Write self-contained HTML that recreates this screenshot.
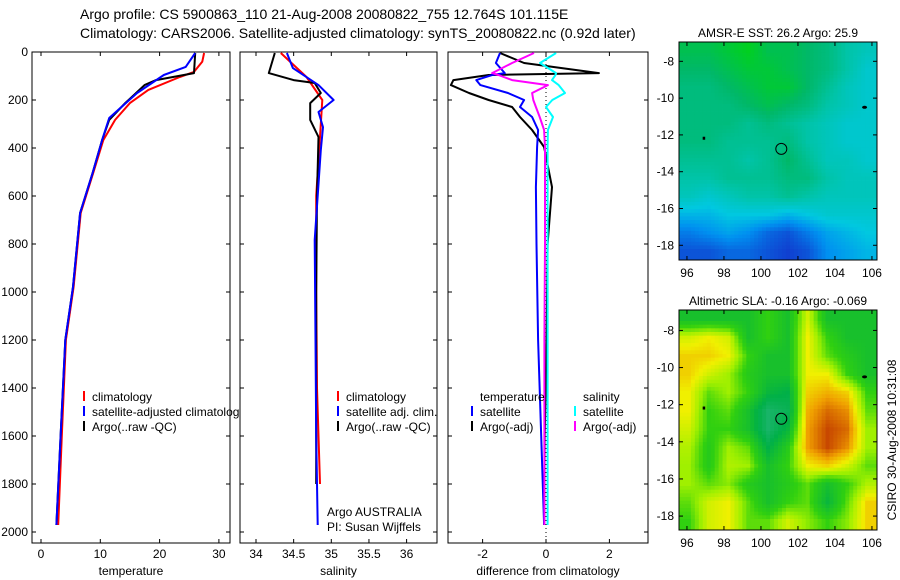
<!DOCTYPE html>
<html><head><meta charset="utf-8"><style>
body{margin:0;background:#fff}
svg{display:block;font-family:"Liberation Sans",sans-serif}
text{font-size:12px;fill:#000}
</style></head><body>
<svg id="s" width="900" height="580" xmlns="http://www.w3.org/2000/svg">
<rect width="900" height="580" fill="#fff"/>
<text x="80" y="19" style="font-size:14px">Argo profile: CS 5900863_110 21-Aug-2008 20080822_755 12.764S 101.115E</text>
<text x="80" y="38" style="font-size:14px">Climatology: CARS2006. Satellite-adjusted climatology: synTS_20080822.nc (0.92d later)</text>
</svg>
<script>
// ---- data ----
const tDepth=[4,40,83,104,158,213,283,367,504,671,979,1200,1600,1971];
const tClim=[27.5,27.2,25.8,23.4,18.1,15.0,12.5,10.5,8.8,6.7,5.5,4.2,3.5,2.9];
const tArgoDepth=[4,88,117,137,213,283,367,504,671,979,1200,1600,1971];
const tArgo=[26.0,25.8,19.4,17.5,14.2,11.5,10.3,8.7,6.6,5.4,4.1,3.3,2.6];
const tSatDepth=[4,62,96,171,275,367,504,671,979,1200,1600,1971];
const tSat=[26.0,24.4,20.7,16.2,11.5,10.3,8.7,6.6,5.4,4.1,3.3,2.6];
const sClimDepth=[4,104,200,354,600,1000,1400,1800];
const sClim=[34.33,34.67,34.88,34.85,34.8,34.8,34.81,34.85];
const sArgoDepth=[4,88,117,129,171,213,283,354,600,1000,1400,1800];
const sArgo=[34.25,34.17,34.5,34.78,34.86,34.72,34.72,34.83,34.81,34.8,34.8,34.8];
const sSatDepth=[4,67,138,200,250,313,409,783,1200,1600,1971];
const sSat=[34.41,34.49,34.83,35.03,34.83,34.89,34.86,34.78,34.79,34.8,34.82];
const dDepth=[4,46,88,96,117,138,171,200,229,271,325,396,563,800,1200,1600,1971];
const dTArgo=[-1.45,-0.69,1.67,-1.81,-2.92,-3.0,-2.43,-1.81,-1.07,-0.82,-0.44,-0.06,0.19,0.05,0.02,-0.04,-0.06];
const dTSat=[-1.45,-1.58,-1.3,-1.7,-2.2,-2.07,-1.2,-0.69,-0.82,-0.44,-0.25,-0.28,-0.32,-0.3,-0.25,-0.15,-0.06];
const dSArgo=[-0.38,-1.07,-1.7,-1.5,-1.07,0.06,-0.44,-0.4,-0.32,-0.2,-0.06,-0.03,-0.03,-0.03,-0.05,-0.05,-0.05];
const dSSat=[0.32,-0.19,0.32,0.3,0.19,0.4,0.6,0.2,0,0.22,0.06,0.05,0.05,0.05,0.05,0.05,0.05];
const depthTicks=[0,200,400,600,800,1000,1200,1400,1600,1800,2000];
const tempTicks=[0,10,20,30];
const salTicks=[34,34.5,35,35.5,36];
const diffTicks=[-2,0,2];
const latTicks=[-8,-10,-12,-14,-16,-18];
const lonTicks=[96,98,100,102,104,106];
const sstGrid=[
[26.2,26.2,26.3,26.4,26.2,26.2,26.1,26.0,25.8,25.7],
[26.1,26.1,26.2,26.3,26.3,26.2,26.1,26.0,25.8,25.6],
[26.0,26.0,26.1,26.2,26.3,26.3,26.1,25.9,25.7,25.6],
[26.0,26.0,26.0,26.1,26.2,26.1,26.0,25.8,25.7,25.6],
[26.0,26.0,26.0,25.9,26.0,25.9,25.8,25.7,25.6,25.6],
[26.0,26.0,25.9,25.9,25.9,26.0,25.8,25.7,25.6,25.6],
[25.9,25.9,25.9,25.8,25.9,26.1,25.9,25.7,25.7,25.6],
[25.8,25.8,25.9,25.9,25.9,26.0,26.0,25.8,25.7,25.7],
[25.7,25.6,25.7,25.8,25.8,25.9,25.8,25.7,25.7,25.7],
[25.4,25.4,25.5,25.5,25.5,25.4,25.5,25.6,25.6,25.6],
[25.1,25.2,25.3,25.2,25.0,24.9,25.1,25.3,25.4,25.5],
[24.9,24.9,25.0,25.0,24.9,24.8,24.9,25.2,25.3,25.4]];
const slaGrid=[
[-0.05,-0.05,-0.05,-0.05,0.0,-0.05,0.08,-0.05,-0.05,-0.05],
[0.08,0.1,0.08,-0.05,0.0,-0.05,0.1,0.0,-0.05,-0.05],
[0.12,0.12,0.1,0.0,-0.05,-0.05,0.1,0.02,-0.02,-0.05],
[0.12,0.08,0.05,-0.02,-0.05,-0.05,0.1,0.1,0.0,-0.05],
[0.1,0.02,0.05,0.0,-0.08,-0.1,0.12,0.14,0.12,0.0],
[0.1,0.0,0.02,-0.05,-0.15,-0.12,0.14,0.18,0.16,0.02],
[0.08,0.0,0.0,-0.05,-0.15,-0.08,0.15,0.2,0.18,0.05],
[0.06,-0.02,0.05,0.02,-0.1,-0.02,0.15,0.2,0.16,0.05],
[0.05,-0.02,0.06,0.05,-0.05,0.0,0.1,0.12,0.08,0.02],
[0.05,0.02,0.04,-0.02,-0.05,-0.02,0.02,-0.05,0.0,0.06],
[0.02,0.08,0.1,0.02,-0.05,0.0,0.02,-0.08,0.02,0.12],
[0.0,0.08,0.1,0.02,0.02,0.08,0.04,0.0,0.04,0.12]];
const argoLon=101.1, argoLat=-12.76;

const svg=document.getElementById('s');
const NS='http://www.w3.org/2000/svg';
function mk(tag,attrs,parent){const e=document.createElementNS(NS,tag);for(const k in attrs)e.setAttribute(k,attrs[k]);(parent||svg).appendChild(e);return e;}
function txt(x,y,s,anchor,size){const e=mk('text',{x:x,y:y,'text-anchor':anchor||'start'});if(size)e.style.fontSize=size+'px';e.textContent=s;return e;}
const depthY=d=>52+d*0.24;
function panel(x0,x1,xScale,xt,name,xlabel){
  const g=mk('g',{});
  
  
  mk('rect',{x:x0,y:52,width:x1-x0,height:491,fill:'#fff',stroke:'#000','stroke-width':1},g);
  for(const d of depthTicks){const y=depthY(d);mk('line',{x1:x0,x2:x0+4,y1:y,y2:y,stroke:'#000'},g);mk('line',{x1:x1-4,x2:x1,y1:y,y2:y,stroke:'#000'},g);}
  for(const v of xt){const x=xScale(v);mk('line',{x1:x,x2:x,y1:543,y2:539,stroke:'#000'},g);mk('line',{x1:x,x2:x,y1:52,y2:56,stroke:'#000'},g);
    const t=txt(x,558,String(v),'middle');}
  const l=txt((x0+x1)/2,575,xlabel,'middle');
  return g;
}
function line(xs,ds,xScale,color,name,w){
  const pts=xs.map((v,i)=>xScale(v).toFixed(1)+','+depthY(ds[i]).toFixed(1)).join(' ');
  const p=mk('polyline',{points:pts,fill:'none',stroke:color,'stroke-width':w||2,'stroke-linejoin':'round'});
  
  
}
function leg(x,y,color,label){
  mk('line',{x1:x,x2:x,y1:y-10,y2:y,stroke:color,'stroke-width':2});
  const t=txt(x+8,y,label);
}
for(const d of depthTicks){const t=txt(28,depthY(d)+4,String(d),'end');}

const tx=v=>41+v*5.93;
panel(32,230,tx,tempTicks,'temperature-panel','temperature');
line(tClim,tDepth,tx,'#f00','temp-climatology-line');
line(tArgo,tArgoDepth,tx,'#000','temp-argo-line');
line(tSat,tSatDepth,tx,'#00f','temp-satellite-line');
leg(84,401,'#f00','climatology');
leg(84,416,'#00f','satellite-adjusted climatology');
leg(84,431,'#000','Argo(..raw -QC)');

const sx=v=>256+(v-34)*75.3;
panel(240,437,sx,salTicks,'salinity-panel','salinity');
line(sClim,sClimDepth,sx,'#f00','sal-climatology-line');
line(sArgo,sArgoDepth,sx,'#000','sal-argo-line');
line(sSat,sSatDepth,sx,'#00f','sal-satellite-line');
leg(338,401,'#f00','climatology');
leg(338,416,'#00f','satellite adj. clim.');
leg(338,431,'#000','Argo(..raw -QC)');
{const a=txt(327,516,'Argo AUSTRALIA');
 const b=txt(327,531,'PI: Susan Wijffels');}

const dx=v=>546+v*31.7;
panel(448,648,dx,diffTicks,'difference-panel','difference from climatology');
mk('line',{x1:dx(0),x2:dx(0),y1:52,y2:543,stroke:'#000','stroke-dasharray':'1,3'});
line(dTArgo,dDepth,dx,'#000','diff-temp-argo-line');
line(dTSat,dDepth,dx,'#00f','diff-temp-satellite-line');
line(dSArgo,dDepth,dx,'#f0f','diff-sal-argo-line');
line(dSSat,dDepth,dx,'#0ff','diff-sal-satellite-line');
{const t=txt(480,401,'temperature');
 const s=txt(583,401,'salinity');}
leg(472,416,'#00f','satellite');
leg(472,431,'#000','Argo(-adj)');
leg(575,416,'#0ff','satellite');
leg(575,431,'#f0f','Argo(-adj)');

// ---- maps ----
function lerpColor(stops,v){
  if(v<=stops[0][0])return 'rgb('+stops[0][1].join(',')+')';
  for(let i=1;i<stops.length;i++){if(v<=stops[i][0]){const a=stops[i-1],b=stops[i],f=(v-a[0])/(b[0]-a[0]);
    return 'rgb('+[0,1,2].map(k=>Math.round(a[1][k]+(b[1][k]-a[1][k])*f)).join(',')+')';}}
  return 'rgb('+stops[stops.length-1][1].join(',')+')';
}
function sample(grid,fy,fx){
  const R=grid.length,C=grid[0].length;
  fy=Math.max(0,Math.min(R-1,fy));fx=Math.max(0,Math.min(C-1,fx));
  const i0=Math.floor(fy),j0=Math.floor(fx),i1=Math.min(R-1,i0+1),j1=Math.min(C-1,j0+1),a=fy-i0,b=fx-j0;
  return grid[i0][j0]*(1-a)*(1-b)+grid[i0][j1]*(1-a)*b+grid[i1][j0]*a*(1-b)+grid[i1][j1]*a*b;
}
const sstStops=[[24.8,[16,64,208]],[25.2,[0,144,240]],[25.5,[0,200,224]],[25.8,[0,196,168]],[26.1,[0,184,104]],[26.4,[0,208,32]]];
const slaStops=[[-0.2,[48,184,136]],[-0.1,[0,176,72]],[0,[48,208,16]],[0.05,[160,240,0]],[0.1,[240,240,0]],[0.15,[240,160,0]],[0.2,[200,72,0]]];
function map(top,bottom,latTop,latBot,grid,stops,name,title){
  const x0=679,x1=877;
  const g=mk('g',{});
  
  
  const lonX=lon=>679+(lon-95.57)*18.5;
  const latY=lat=>top+(latTop-lat)/(latTop-latBot)*(bottom-top);
  const rows=grid.length,cols=grid[0].length,S=5,cw=(x1-x0)/(cols*S),ch=(bottom-top)/(rows*S);
  for(let i=0;i<rows*S;i++)for(let j=0;j<cols*S;j++){
    const v=sample(grid,(i+0.5)/S-0.5,(j+0.5)/S-0.5);
    const c=mk('rect',{x:(x0+j*cw).toFixed(2),y:(top+i*ch).toFixed(2),width:(cw+0.4).toFixed(2),height:(ch+0.4).toFixed(2),fill:lerpColor(stops,v)},g);
    
    
  }
  mk('rect',{x:x0,y:top,width:x1-x0,height:bottom-top,fill:'none',stroke:'#000'},g);
  for(const la of latTicks){const y=latY(la);mk('line',{x1:x0,x2:x0+4,y1:y,y2:y,stroke:'#000'},g);mk('line',{x1:x1-4,x2:x1,y1:y,y2:y,stroke:'#000'},g);
    const t=txt(674,y+4,String(la),'end');}
  for(const lo of lonTicks){const x=lonX(lo);mk('line',{x1:x,x2:x,y1:bottom,y2:bottom-4,stroke:'#000'},g);mk('line',{x1:x,x2:x,y1:top,y2:top+4,stroke:'#000'},g);
    const t=txt(x,bottom+17,String(lo),'middle');}
  const c=mk('circle',{cx:lonX(argoLon),cy:latY(argoLat),r:5.5,fill:'none',stroke:'#000'},g);
  
  
  mk('rect',{x:lonX(96.85),y:latY(-12.1),width:2.5,height:3,fill:'#000'},g);
  mk('ellipse',{cx:lonX(105.6),cy:latY(-10.5),rx:2.5,ry:1.5,fill:'#000'},g);
  const t=txt(778,top-5,title,'middle');
}
map(42,260,-6.95,-18.8,sstGrid,sstStops,'sst-map','AMSR-E SST: 26.2 Argo: 25.9');
map(310,530,-6.9,-18.75,slaGrid,slaStops,'sla-map','Altimetric SLA: -0.16 Argo: -0.069');
{const t=txt(0,0,'CSIRO 30-Aug-2008 10:31:08','middle');t.setAttribute('transform','translate(896,440) rotate(-90)');
 }
</script>
</body></html>
